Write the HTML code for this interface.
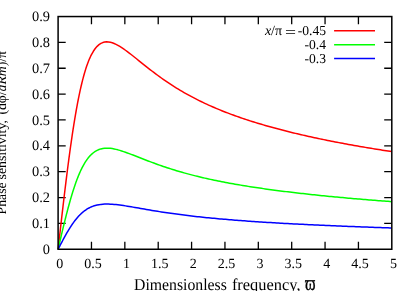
<!DOCTYPE html>
<html><head><meta charset="utf-8"><title>Phase sensitivity</title>
<style>html,body{margin:0;padding:0;background:#fff;overflow:hidden}svg{display:block;will-change:transform;transform:translateZ(0)}text{font-family:"Liberation Serif",serif;fill:#000;text-rendering:geometricPrecision}</style></head>
<body>
<svg width="415" height="291" viewBox="0 0 415 291">
<rect x="0" y="0" width="415" height="291" fill="#fff"/>
<path d="M91.47,249.25v-7.6M91.47,16.55v7.6M124.84,249.25v-7.6M124.84,16.55v7.6M158.21,249.25v-7.6M158.21,16.55v7.6M191.58,249.25v-7.6M191.58,16.55v7.6M224.95,249.25v-7.6M224.95,16.55v7.6M258.32,249.25v-7.6M258.32,16.55v7.6M291.69,249.25v-7.6M291.69,16.55v7.6M325.06,249.25v-7.6M325.06,16.55v7.6M358.43,249.25v-7.6M358.43,16.55v7.6M58.10,223.39h7.6M391.80,223.39h-7.6M58.10,197.54h7.6M391.80,197.54h-7.6M58.10,171.68h7.6M391.80,171.68h-7.6M58.10,145.83h7.6M391.80,145.83h-7.6M58.10,119.97h7.6M391.80,119.97h-7.6M58.10,94.12h7.6M391.80,94.12h-7.6M58.10,68.26h7.6M391.80,68.26h-7.6M58.10,42.41h7.6M391.80,42.41h-7.6" fill="none" stroke="#000" stroke-width="1.3"/>
<clipPath id="cp"><rect x="57.1" y="16.55" width="334.10" height="233.70"/></clipPath>
<path clip-path="url(#cp)" d="M58.10,249.25 L58.52,245.56 L58.93,241.88 L59.35,238.20 L59.77,234.52 L60.19,230.85 L60.60,227.19 L61.02,223.54 L61.44,219.91 L61.85,216.28 L62.27,212.68 L62.69,209.09 L63.11,205.52 L63.52,201.97 L63.94,198.45 L64.36,194.94 L64.77,191.47 L65.19,188.02 L65.61,184.60 L66.03,181.21 L66.44,177.85 L66.86,174.52 L67.28,171.23 L67.69,167.97 L68.11,164.75 L68.53,161.56 L68.95,158.41 L69.36,155.31 L69.78,152.24 L70.20,149.21 L70.61,146.23 L71.03,143.28 L71.45,140.38 L71.87,137.53 L72.28,134.72 L72.70,131.95 L73.12,129.23 L73.53,126.56 L73.95,123.93 L74.37,121.35 L74.78,118.81 L75.20,116.33 L75.62,113.89 L76.04,111.50 L76.45,109.15 L76.87,106.86 L77.29,104.61 L77.70,102.41 L78.12,100.25 L78.54,98.15 L78.96,96.09 L79.37,94.08 L79.79,92.12 L80.21,90.20 L80.62,88.33 L81.04,86.51 L81.46,84.73 L81.88,83.00 L82.29,81.31 L82.71,79.67 L83.13,78.07 L83.54,76.52 L83.96,75.00 L84.38,73.54 L84.80,72.11 L85.21,70.73 L85.63,69.39 L86.05,68.08 L86.46,66.82 L86.88,65.60 L87.30,64.42 L87.72,63.28 L88.13,62.17 L88.55,61.10 L88.97,60.07 L89.38,59.07 L89.80,58.11 L90.22,57.19 L90.64,56.30 L91.05,55.44 L91.47,54.61 L93.36,51.27 L95.25,48.54 L97.14,46.35 L99.03,44.66 L100.91,43.41 L102.80,42.56 L104.69,42.06 L106.58,41.86 L108.47,41.94 L110.36,42.26 L112.25,42.78 L114.14,43.49 L116.03,44.34 L117.91,45.33 L119.80,46.44 L121.69,47.63 L123.58,48.90 L125.47,50.24 L127.36,51.63 L129.25,53.06 L131.14,54.53 L133.03,56.01 L134.91,57.52 L136.80,59.03 L138.69,60.55 L140.58,62.07 L142.47,63.59 L144.36,65.09 L146.25,66.59 L148.14,68.08 L150.02,69.55 L151.91,71.00 L153.80,72.44 L155.69,73.86 L157.58,75.25 L159.47,76.63 L161.36,77.99 L163.25,79.32 L165.14,80.63 L167.02,81.92 L168.91,83.19 L170.80,84.43 L172.69,85.65 L174.58,86.85 L176.47,88.03 L178.36,89.19 L180.25,90.32 L182.14,91.44 L184.02,92.53 L185.91,93.61 L187.80,94.66 L189.69,95.69 L191.58,96.71 L193.47,97.71 L195.36,98.68 L197.25,99.65 L199.14,100.59 L201.02,101.51 L202.91,102.42 L204.80,103.32 L206.69,104.19 L208.58,105.06 L210.47,105.90 L212.36,106.74 L214.25,107.56 L216.14,108.36 L218.02,109.15 L219.91,109.93 L221.80,110.70 L223.69,111.45 L225.58,112.19 L227.47,112.92 L229.36,113.64 L231.25,114.34 L233.14,115.04 L235.02,115.72 L236.91,116.40 L238.80,117.06 L240.69,117.72 L242.58,118.36 L244.47,119.00 L246.36,119.63 L248.25,120.24 L250.13,120.85 L252.02,121.45 L253.91,122.05 L255.80,122.63 L257.69,123.21 L259.58,123.78 L261.47,124.34 L263.36,124.90 L265.25,125.44 L267.13,125.98 L269.02,126.52 L270.91,127.05 L272.80,127.57 L274.69,128.08 L276.58,128.59 L278.47,129.09 L280.36,129.59 L282.25,130.08 L284.13,130.57 L286.02,131.05 L287.91,131.52 L289.80,131.99 L291.69,132.45 L293.58,132.91 L295.47,133.37 L297.36,133.82 L299.25,134.26 L301.13,134.70 L303.02,135.13 L304.91,135.56 L306.80,135.99 L308.69,136.41 L310.58,136.83 L312.47,137.24 L314.36,137.65 L316.25,138.06 L318.13,138.46 L320.02,138.86 L321.91,139.25 L323.80,139.64 L325.69,140.02 L327.58,140.41 L329.47,140.79 L331.36,141.16 L333.25,141.53 L335.13,141.90 L337.02,142.27 L338.91,142.63 L340.80,142.99 L342.69,143.34 L344.58,143.69 L346.47,144.04 L348.36,144.39 L350.24,144.73 L352.13,145.07 L354.02,145.41 L355.91,145.74 L357.80,146.08 L359.69,146.40 L361.58,146.73 L363.47,147.05 L365.36,147.37 L367.24,147.69 L369.13,148.01 L371.02,148.32 L372.91,148.63 L374.80,148.94 L376.69,149.24 L378.58,149.55 L380.47,149.85 L382.36,150.14 L384.24,150.44 L386.13,150.73 L388.02,151.02 L389.91,151.31 L391.80,151.60" fill="none" stroke="#ff0000" stroke-width="1.5" stroke-linejoin="round"/>
<path clip-path="url(#cp)" d="M58.10,249.25 L58.52,247.45 L58.93,245.66 L59.35,243.86 L59.77,242.07 L60.19,240.28 L60.60,238.50 L61.02,236.72 L61.44,234.95 L61.85,233.18 L62.27,231.42 L62.69,229.67 L63.11,227.93 L63.52,226.20 L63.94,224.49 L64.36,222.78 L64.77,221.08 L65.19,219.40 L65.61,217.74 L66.03,216.08 L66.44,214.44 L66.86,212.82 L67.28,211.22 L67.69,209.63 L68.11,208.06 L68.53,206.51 L68.95,204.97 L69.36,203.46 L69.78,201.96 L70.20,200.49 L70.61,199.03 L71.03,197.60 L71.45,196.18 L71.87,194.79 L72.28,193.42 L72.70,192.07 L73.12,190.75 L73.53,189.44 L73.95,188.16 L74.37,186.90 L74.78,185.67 L75.20,184.46 L75.62,183.27 L76.04,182.10 L76.45,180.96 L76.87,179.84 L77.29,178.74 L77.70,177.67 L78.12,176.62 L78.54,175.59 L78.96,174.59 L79.37,173.61 L79.79,172.65 L80.21,171.72 L80.62,170.81 L81.04,169.92 L81.46,169.05 L81.88,168.21 L82.29,167.39 L82.71,166.59 L83.13,165.81 L83.54,165.05 L83.96,164.31 L84.38,163.60 L84.80,162.90 L85.21,162.23 L85.63,161.57 L86.05,160.94 L86.46,160.33 L86.88,159.73 L87.30,159.15 L87.72,158.60 L88.13,158.06 L88.55,157.54 L88.97,157.03 L89.38,156.55 L89.80,156.08 L90.22,155.63 L90.64,155.19 L91.05,154.78 L91.47,154.37 L93.36,152.75 L95.25,151.41 L97.14,150.35 L99.03,149.52 L100.91,148.91 L102.80,148.50 L104.69,148.25 L106.58,148.16 L108.47,148.20 L110.36,148.35 L112.25,148.61 L114.14,148.95 L116.03,149.37 L117.91,149.85 L119.80,150.39 L121.69,150.97 L123.58,151.59 L125.47,152.24 L127.36,152.92 L129.25,153.62 L131.14,154.33 L133.03,155.06 L134.91,155.79 L136.80,156.53 L138.69,157.27 L140.58,158.01 L142.47,158.75 L144.36,159.48 L146.25,160.21 L148.14,160.94 L150.02,161.65 L151.91,162.36 L153.80,163.06 L155.69,163.75 L157.58,164.43 L159.47,165.11 L161.36,165.77 L163.25,166.42 L165.14,167.06 L167.02,167.68 L168.91,168.30 L170.80,168.91 L172.69,169.50 L174.58,170.09 L176.47,170.66 L178.36,171.23 L180.25,171.78 L182.14,172.32 L184.02,172.86 L185.91,173.38 L187.80,173.89 L189.69,174.40 L191.58,174.89 L193.47,175.38 L195.36,175.86 L197.25,176.32 L199.14,176.78 L201.02,177.24 L202.91,177.68 L204.80,178.11 L206.69,178.54 L208.58,178.96 L210.47,179.38 L212.36,179.78 L214.25,180.18 L216.14,180.57 L218.02,180.96 L219.91,181.34 L221.80,181.71 L223.69,182.08 L225.58,182.44 L227.47,182.79 L229.36,183.14 L231.25,183.49 L233.14,183.83 L235.02,184.16 L236.91,184.49 L238.80,184.81 L240.69,185.13 L242.58,185.45 L244.47,185.76 L246.36,186.06 L248.25,186.37 L250.13,186.66 L252.02,186.96 L253.91,187.24 L255.80,187.53 L257.69,187.81 L259.58,188.09 L261.47,188.36 L263.36,188.63 L265.25,188.90 L267.13,189.16 L269.02,189.42 L270.91,189.68 L272.80,189.94 L274.69,190.19 L276.58,190.43 L278.47,190.68 L280.36,190.92 L282.25,191.16 L284.13,191.40 L286.02,191.63 L287.91,191.86 L289.80,192.09 L291.69,192.32 L293.58,192.54 L295.47,192.76 L297.36,192.98 L299.25,193.20 L301.13,193.41 L303.02,193.62 L304.91,193.83 L306.80,194.04 L308.69,194.25 L310.58,194.45 L312.47,194.65 L314.36,194.85 L316.25,195.05 L318.13,195.24 L320.02,195.44 L321.91,195.63 L323.80,195.82 L325.69,196.01 L327.58,196.19 L329.47,196.38 L331.36,196.56 L333.25,196.74 L335.13,196.92 L337.02,197.10 L338.91,197.28 L340.80,197.45 L342.69,197.62 L344.58,197.80 L346.47,197.97 L348.36,198.13 L350.24,198.30 L352.13,198.47 L354.02,198.63 L355.91,198.80 L357.80,198.96 L359.69,199.12 L361.58,199.28 L363.47,199.43 L365.36,199.59 L367.24,199.74 L369.13,199.90 L371.02,200.05 L372.91,200.20 L374.80,200.35 L376.69,200.50 L378.58,200.65 L380.47,200.79 L382.36,200.94 L384.24,201.08 L386.13,201.23 L388.02,201.37 L389.91,201.51 L391.80,201.65" fill="none" stroke="#00ff00" stroke-width="1.5" stroke-linejoin="round"/>
<path clip-path="url(#cp)" d="M58.10,249.25 L58.52,248.45 L58.93,247.64 L59.35,246.84 L59.77,246.04 L60.19,245.24 L60.60,244.44 L61.02,243.65 L61.44,242.85 L61.85,242.06 L62.27,241.28 L62.69,240.50 L63.11,239.72 L63.52,238.94 L63.94,238.17 L64.36,237.41 L64.77,236.65 L65.19,235.90 L65.61,235.16 L66.03,234.42 L66.44,233.68 L66.86,232.96 L67.28,232.24 L67.69,231.53 L68.11,230.83 L68.53,230.13 L68.95,229.45 L69.36,228.77 L69.78,228.10 L70.20,227.44 L70.61,226.79 L71.03,226.15 L71.45,225.52 L71.87,224.90 L72.28,224.28 L72.70,223.68 L73.12,223.09 L73.53,222.50 L73.95,221.93 L74.37,221.37 L74.78,220.82 L75.20,220.27 L75.62,219.74 L76.04,219.22 L76.45,218.71 L76.87,218.21 L77.29,217.72 L77.70,217.24 L78.12,216.77 L78.54,216.31 L78.96,215.86 L79.37,215.42 L79.79,215.00 L80.21,214.58 L80.62,214.17 L81.04,213.77 L81.46,213.38 L81.88,213.01 L82.29,212.64 L82.71,212.28 L83.13,211.93 L83.54,211.59 L83.96,211.26 L84.38,210.94 L84.80,210.63 L85.21,210.33 L85.63,210.04 L86.05,209.76 L86.46,209.48 L86.88,209.22 L87.30,208.96 L87.72,208.71 L88.13,208.47 L88.55,208.23 L88.97,208.01 L89.38,207.79 L89.80,207.58 L90.22,207.38 L90.64,207.19 L91.05,207.00 L91.47,206.82 L93.36,206.09 L95.25,205.50 L97.14,205.02 L99.03,204.65 L100.91,204.38 L102.80,204.19 L104.69,204.08 L106.58,204.04 L108.47,204.06 L110.36,204.13 L112.25,204.24 L114.14,204.39 L116.03,204.58 L117.91,204.80 L119.80,205.04 L121.69,205.30 L123.58,205.57 L125.47,205.87 L127.36,206.17 L129.25,206.48 L131.14,206.80 L133.03,207.12 L134.91,207.45 L136.80,207.78 L138.69,208.11 L140.58,208.45 L142.47,208.78 L144.36,209.10 L146.25,209.43 L148.14,209.75 L150.02,210.08 L151.91,210.39 L153.80,210.71 L155.69,211.01 L157.58,211.32 L159.47,211.62 L161.36,211.92 L163.25,212.21 L165.14,212.49 L167.02,212.77 L168.91,213.05 L170.80,213.32 L172.69,213.59 L174.58,213.85 L176.47,214.11 L178.36,214.36 L180.25,214.60 L182.14,214.85 L184.02,215.09 L185.91,215.32 L187.80,215.55 L189.69,215.78 L191.58,216.00 L193.47,216.21 L195.36,216.43 L197.25,216.64 L199.14,216.84 L201.02,217.04 L202.91,217.24 L204.80,217.44 L206.69,217.63 L208.58,217.82 L210.47,218.00 L212.36,218.18 L214.25,218.36 L216.14,218.54 L218.02,218.71 L219.91,218.88 L221.80,219.05 L223.69,219.21 L225.58,219.37 L227.47,219.53 L229.36,219.69 L231.25,219.84 L233.14,219.99 L235.02,220.14 L236.91,220.29 L238.80,220.43 L240.69,220.58 L242.58,220.72 L244.47,220.86 L246.36,220.99 L248.25,221.13 L250.13,221.26 L252.02,221.39 L253.91,221.52 L255.80,221.65 L257.69,221.77 L259.58,221.90 L261.47,222.02 L263.36,222.14 L265.25,222.26 L267.13,222.38 L269.02,222.49 L270.91,222.61 L272.80,222.72 L274.69,222.84 L276.58,222.95 L278.47,223.06 L280.36,223.16 L282.25,223.27 L284.13,223.38 L286.02,223.48 L287.91,223.59 L289.80,223.69 L291.69,223.79 L293.58,223.89 L295.47,223.99 L297.36,224.09 L299.25,224.18 L301.13,224.28 L303.02,224.37 L304.91,224.47 L306.80,224.56 L308.69,224.65 L310.58,224.74 L312.47,224.83 L314.36,224.92 L316.25,225.01 L318.13,225.10 L320.02,225.18 L321.91,225.27 L323.80,225.35 L325.69,225.44 L327.58,225.52 L329.47,225.61 L331.36,225.69 L333.25,225.77 L335.13,225.85 L337.02,225.93 L338.91,226.01 L340.80,226.08 L342.69,226.16 L344.58,226.24 L346.47,226.32 L348.36,226.39 L350.24,226.47 L352.13,226.54 L354.02,226.61 L355.91,226.69 L357.80,226.76 L359.69,226.83 L361.58,226.90 L363.47,226.97 L365.36,227.04 L367.24,227.11 L369.13,227.18 L371.02,227.25 L372.91,227.32 L374.80,227.38 L376.69,227.45 L378.58,227.51 L380.47,227.58 L382.36,227.65 L384.24,227.71 L386.13,227.77 L388.02,227.84 L389.91,227.90 L391.80,227.96" fill="none" stroke="#0000ff" stroke-width="1.5" stroke-linejoin="round"/>
<rect x="58.1" y="16.55" width="333.70" height="232.70" fill="none" stroke="#000" stroke-width="1.5"/>
<text x="59.70" y="267.9" font-size="14" text-anchor="middle">0</text>
<text x="93.07" y="267.9" font-size="14" text-anchor="middle">0.5</text>
<text x="126.44" y="267.9" font-size="14" text-anchor="middle">1</text>
<text x="159.81" y="267.9" font-size="14" text-anchor="middle">1.5</text>
<text x="193.18" y="267.9" font-size="14" text-anchor="middle">2</text>
<text x="226.55" y="267.9" font-size="14" text-anchor="middle">2.5</text>
<text x="259.92" y="267.9" font-size="14" text-anchor="middle">3</text>
<text x="293.29" y="267.9" font-size="14" text-anchor="middle">3.5</text>
<text x="326.66" y="267.9" font-size="14" text-anchor="middle">4</text>
<text x="360.03" y="267.9" font-size="14" text-anchor="middle">4.5</text>
<text x="393.40" y="267.9" font-size="14" text-anchor="middle">5</text>
<text x="50" y="254.25" font-size="14.4" text-anchor="end">0</text>
<text x="50" y="228.30" font-size="14.4" text-anchor="end">0.1</text>
<text x="50" y="202.36" font-size="14.4" text-anchor="end">0.2</text>
<text x="50" y="176.41" font-size="14.4" text-anchor="end">0.3</text>
<text x="50" y="150.47" font-size="14.4" text-anchor="end">0.4</text>
<text x="50" y="124.52" font-size="14.4" text-anchor="end">0.5</text>
<text x="50" y="98.58" font-size="14.4" text-anchor="end">0.6</text>
<text x="50" y="72.63" font-size="14.4" text-anchor="end">0.7</text>
<text x="50" y="46.69" font-size="14.4" text-anchor="end">0.8</text>
<text x="50" y="20.74" font-size="14.4" text-anchor="end">0.9</text>
<text x="326" y="35.40" font-size="13.6" text-anchor="end">-0.45</text>
<path d="M334.1,30.80H375.0" stroke="#ff0000" stroke-width="1.5" fill="none"/>
<text x="326" y="49.25" font-size="13.6" text-anchor="end">-0.4</text>
<path d="M334.1,44.65H375.0" stroke="#00ff00" stroke-width="1.5" fill="none"/>
<text x="326" y="63.10" font-size="13.6" text-anchor="end">-0.3</text>
<path d="M334.1,58.50H375.0" stroke="#0000ff" stroke-width="1.5" fill="none"/>
<text x="264.9" y="35.4" font-size="14"><tspan font-style="italic">x</tspan>/π</text>
<text transform="translate(290.5,36.5) scale(1.4,1.1)" font-size="14" text-anchor="middle">=</text>
<text x="134.0" y="289.9" font-size="16.6" textLength="92.9" lengthAdjust="spacingAndGlyphs">Dimensionless</text>
<text x="231.9" y="289.9" font-size="16.6" textLength="68.6" lengthAdjust="spacingAndGlyphs">frequency,</text>
<text transform="translate(304.9,289.7) scale(1.03,1.36)" font-size="15.6" stroke="#000" stroke-width="0.25">ϖ</text>
<text transform="translate(6.1,214.4) rotate(-90)" font-size="13.5" textLength="32.0" lengthAdjust="spacingAndGlyphs">Phase</text>
<text transform="translate(6.1,179.5) rotate(-90)" font-size="13.5" textLength="59.4" lengthAdjust="spacingAndGlyphs">sensitivity,</text>
<text transform="translate(6.1,114.6) rotate(-90)" font-size="13.5" textLength="63.6" lengthAdjust="spacingAndGlyphs">(dφ/<tspan font-style="italic">dRm</tspan>)/π</text>
</svg>
</body></html>
